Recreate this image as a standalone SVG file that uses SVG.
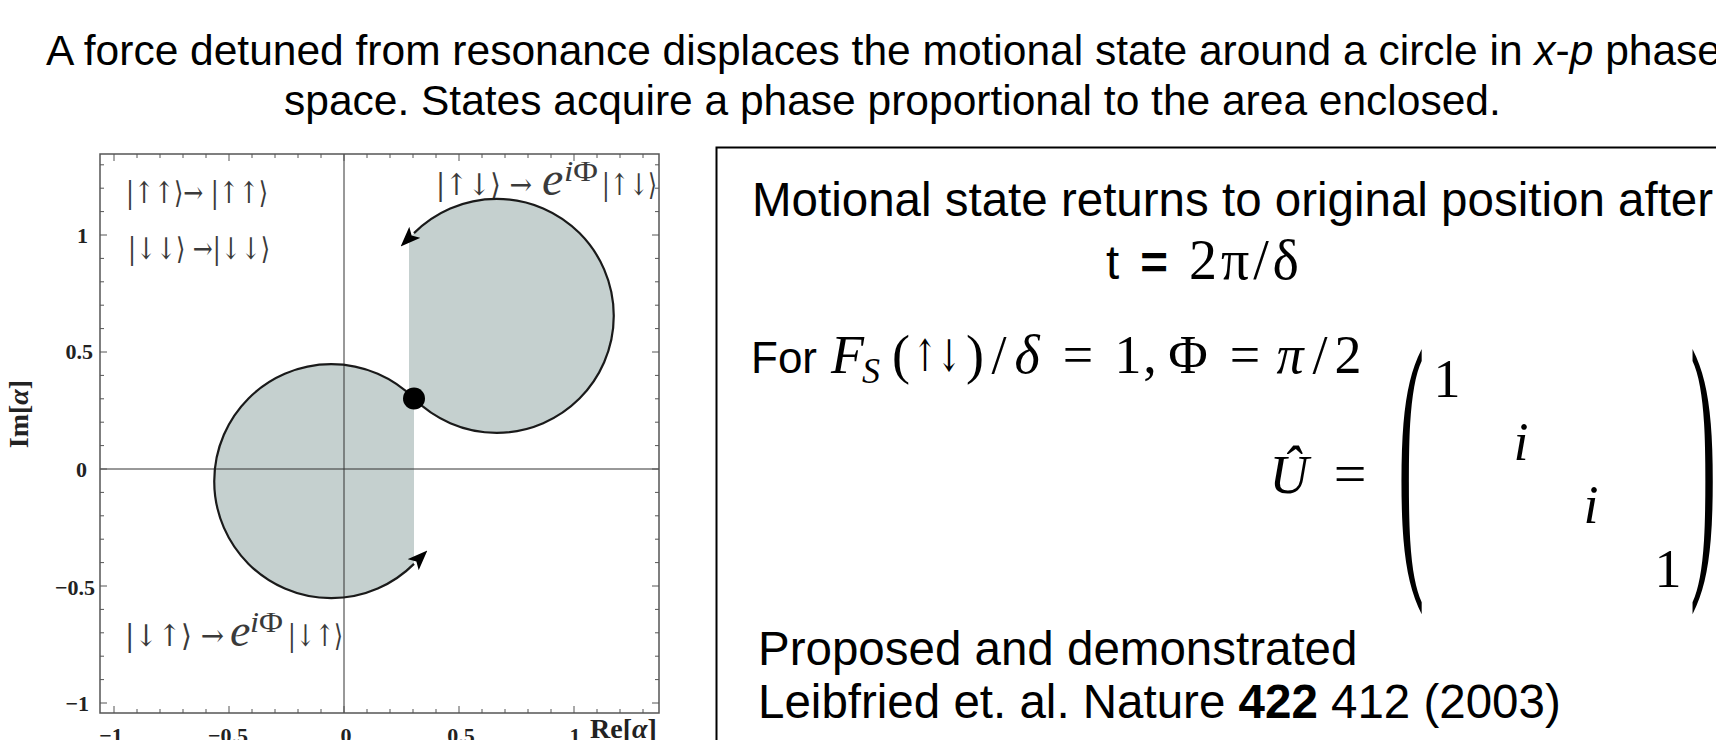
<svg xmlns="http://www.w3.org/2000/svg" width="1716" height="740" viewBox="0 0 1716 740">
<style>
.sans{font-family:"Liberation Sans",Arial,sans-serif;fill:#000}
.serif{font-family:"Liberation Serif","DejaVu Serif","DejaVu Sans",serif}
.plab{font-family:"DejaVu Serif","DejaVu Sans",serif;fill:#3a3a3a;font-size:30px}
.pe{font-family:"Liberation Serif","DejaVu Serif",serif;fill:#3a3a3a}
.tick{font-family:"Liberation Serif","DejaVu Serif",serif;fill:#222;font-size:22px;font-weight:bold}
.axl{font-family:"Liberation Serif","DejaVu Serif",serif;fill:#222;font-size:28px;font-weight:bold}
.math{font-family:"Liberation Serif","DejaVu Serif","DejaVu Sans",serif;fill:#000;font-size:54px}
.arr{font-family:"DejaVu Serif","DejaVu Sans",serif;font-size:44px}
.it{font-style:italic}
.shade{fill:#c5d0cf;stroke:none}
.loop{fill:none;stroke:#1a1a1a;stroke-width:2.2}
</style>
<defs>
<marker id="ah" markerUnits="userSpaceOnUse" markerWidth="20" markerHeight="16" viewBox="0 0 18 14" refX="1" refY="7" orient="auto">
<path d="M0,0 L18,7 L0,14 L4,7 Z" fill="#000"/>
</marker>
</defs>
<rect width="1716" height="740" fill="#fff"/>

<g id="title" class="sans" font-size="42.5">
<text x="46" y="65">A force detuned from resonance displaces the motional state around a circle in <tspan font-style="italic">x</tspan>-<tspan font-style="italic">p</tspan> phase</text>
<text x="284" y="115">space. States acquire a phase proportional to the area enclosed.</text>
</g>

<g id="plot">
<path class="shade" d="M414 398.5 A117 117 0 1 0 414 563.9 Z"/>
<path class="shade" d="M409 398.5 L414 398.5 A117 117 0 1 0 414 233.1 L409 238.4 Z"/>
<path d="M344 154 V713 M100 469 H659" stroke="#333" stroke-width="1" fill="none"/>
<rect x="100" y="154" width="559" height="559" fill="none" stroke="#555" stroke-width="1.5"/>
<g stroke="#555" stroke-width="1" fill="none">
<path d="M114 713v-7M137 713v-4M160 713v-4M183 713v-4M206 713v-4M229 713v-7M252 713v-4M275 713v-4M298 713v-4M321 713v-4M344 713v-7M367 713v-4M390 713v-4M413 713v-4M436 713v-4M459 713v-7M482 713v-4M505 713v-4M528 713v-4M551 713v-4M574 713v-7M597 713v-4M620 713v-4M643 713v-4"/>
<path d="M114 154v7M137 154v4M160 154v4M183 154v4M206 154v4M229 154v7M252 154v4M275 154v4M298 154v4M321 154v4M344 154v7M367 154v4M390 154v4M413 154v4M436 154v4M459 154v7M482 154v4M505 154v4M528 154v4M551 154v4M574 154v7M597 154v4M620 154v4M643 154v4"/>
<path d="M100 703h7M100 679.6h4M100 656.2h4M100 632.8h4M100 609.4h4M100 586h7M100 562.6h4M100 539.2h4M100 515.8h4M100 492.4h4M100 469h7M100 445.6h4M100 422.2h4M100 398.8h4M100 375.4h4M100 352h7M100 328.6h4M100 305.2h4M100 281.8h4M100 258.4h4M100 235h7M100 211.6h4M100 188.2h4M100 164.8h4"/>
<path d="M659 703h-7M659 679.6h-4M659 656.2h-4M659 632.8h-4M659 609.4h-4M659 586h-7M659 562.6h-4M659 539.2h-4M659 515.8h-4M659 492.4h-4M659 469h-7M659 445.6h-4M659 422.2h-4M659 398.8h-4M659 375.4h-4M659 352h-7M659 328.6h-4M659 305.2h-4M659 281.8h-4M659 258.4h-4M659 235h-7M659 211.6h-4M659 188.2h-4M659 164.8h-4"/>
</g>
<g class="tick" text-anchor="end">
<text x="88" y="243">1</text>
<text x="93" y="359">0.5</text>
<text x="87" y="477">0</text>
<text x="95" y="595">−0.5</text>
<text x="89" y="711">−1</text>
</g>
<g class="tick" text-anchor="middle">
<text x="111" y="743">−1</text>
<text x="228" y="743">−0.5</text>
<text x="346" y="743">0</text>
<text x="461" y="743">0.5</text>
<text x="575" y="743">1</text>
</g>
<text class="axl" x="590" y="738">Re[<tspan font-style="italic">α</tspan>]</text>
<text class="axl" transform="translate(28,414) rotate(-90)" text-anchor="middle">Im[<tspan font-style="italic">α</tspan>]</text>

<g id="labels">
<text class="plab" x="126" y="203" textLength="142" lengthAdjust="spacingAndGlyphs">|↑↑⟩→ |↑↑⟩</text>
<text class="plab" x="128" y="259" textLength="142" lengthAdjust="spacingAndGlyphs">|↓↓⟩ →|↓↓⟩</text>
<text class="plab" x="436" y="195" textLength="96" lengthAdjust="spacingAndGlyphs">|↑↓⟩ →</text>
<text class="pe it" x="542" y="195" font-size="48">e</text>
<text class="pe" x="564" y="181" font-size="29" textLength="34" lengthAdjust="spacingAndGlyphs"><tspan font-style="italic">i</tspan>Φ</text>
<text class="plab" x="602" y="195" textLength="55" lengthAdjust="spacingAndGlyphs">|↑↓⟩</text>
<text class="plab" x="125" y="646" textLength="99" lengthAdjust="spacingAndGlyphs">|↓↑⟩ →</text>
<text class="pe it" x="230" y="646" font-size="46">e</text>
<text class="pe" x="250" y="632" font-size="29" textLength="33" lengthAdjust="spacingAndGlyphs"><tspan font-style="italic">i</tspan>Φ</text>
<text class="plab" x="288" y="646" textLength="55" lengthAdjust="spacingAndGlyphs">|↓↑⟩</text>
</g>
</g>

<g id="connectors">
<path class="loop" d="M414 398.5 A117 117 0 1 0 414 233.1" marker-end="url(#ah)"/>
<path class="loop" d="M414 398.5 A117 117 0 1 0 414 563.9" marker-end="url(#ah)"/>
<circle cx="414" cy="398.5" r="11" fill="#000"/>
</g>

<g id="infobox">
<path d="M1720 147.5 H716.5 V745" fill="none" stroke="#000" stroke-width="2"/>
<text class="sans" x="752" y="216" font-size="47.5">Motional state returns to original position after</text>
<text class="sans" x="1106" y="279" font-size="47.5" textLength="193" lengthAdjust="spacing">t <tspan font-weight="bold">=</tspan> <tspan class="serif" font-size="56">2π/δ</tspan></text>
<text class="sans" x="751" y="373" font-size="44">For</text>
<g class="math">
<text x="831" y="373"><tspan class="it">F</tspan><tspan class="it" font-size="36" dx="-2" dy="10">S</tspan></text>
<text x="913" y="371" class="arr" textLength="48" lengthAdjust="spacingAndGlyphs">↑↓</text>
</g>
<g class="math" text-anchor="middle">
<text x="901" y="373">(</text>
<text x="975" y="373">)</text>
<text x="999" y="373">/</text>
<text x="1027" y="373" class="it">δ</text>
<text x="1078" y="373">=</text>
<text x="1128" y="373">1</text>
<text x="1150" y="373">,</text>
<text x="1188" y="373">Φ</text>
<text x="1245" y="373">=</text>
<text x="1290" y="373" class="it">π</text>
<text x="1320" y="373">/</text>
<text x="1348" y="373">2</text>
<text x="1289" y="493" class="it">Û</text>
<text x="1350" y="493" font-size="58">=</text>
<text x="1447" y="397">1</text>
<text x="1521" y="460" class="it">i</text>
<text x="1591" y="523" class="it">i</text>
<text x="1668" y="587">1</text>
</g>
<g class="math">
<text transform="translate(1398,552) scale(1.05,3.9)" font-size="75">(</text>
<text transform="translate(1690,552) scale(1.05,3.9)" font-size="75">)</text>
</g>
<text class="sans" x="758" y="665" font-size="47.5">Proposed and demonstrated</text>
<text class="sans" x="758" y="718" font-size="47.5">Leibfried et. al. Nature <tspan font-weight="bold">422</tspan> 412 (2003)</text>
</g>
</svg>
